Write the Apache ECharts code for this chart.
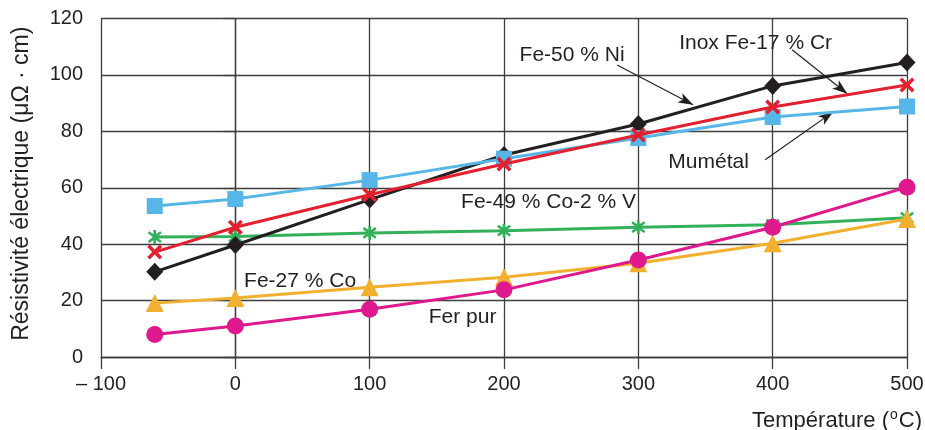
<!DOCTYPE html>
<html>
<head>
<meta charset="utf-8">
<script src="https://cdn.jsdelivr.net/npm/echarts@6/dist/echarts.min.js"></script>
<style>
html,body{margin:0;padding:0;background:#fff;}
#c{width:925px;height:430px;}
</style>
</head>
<body>
<div id="c"></div>
<script>
// ---- data ----
const temps = [-60, 0, 100, 200, 300, 400, 500];
const feNi    = [30.2, 39.7, 55.8, 71.6, 82.6, 96.1, 104.4];
const mumetal = [53.5, 56.0, 62.7, 70.3, 77.6, 85.1, 88.8];
const inox    = [37.2, 46.0, 57.5, 68.4, 78.7, 88.6, 96.4];
const feCoV   = [42.5, 42.7, 44.0, 44.8, 46.0, 46.9, 49.4];
const feCo    = [19.1, 20.9, 24.7, 28.3, 33.2, 40.3, 48.9];
const ferPur  = [8.0, 11.0, 16.9, 23.8, 34.4, 46.0, 60.2];
const xTickValues = [-100, 0, 100, 200, 300, 400, 500];
const xTickLabels = ['\u2013 100', '0', '100', '200', '300', '400', '500'];
const yTickLabels = ['0', '20', '40', '60', '80', '100', '120'];
const seriesNames = ['Fe-50 % Ni', 'Mumétal', 'Inox Fe-17 % Cr', 'Fe-49 % Co-2 % V', 'Fe-27 % Co', 'Fer pur'];
// annotation labels (data coordinates)
const labelNames  = ['Fe-50 % Ni', 'Inox Fe-17 % Cr', 'Mumétal', 'Fe-49 % Co-2 % V', 'Fe-27 % Co', 'Fer pur'];
const labelX      = [250.7, 387.3, 352.3, 233.2, 48.2, 169.2];
const labelY      = [107.1, 111.3, 69.1, 55.0, 27.0, 14.2];
// annotation arrows (data coordinates: start -> tip)
const arrowFrom = [[284.2, 103.5], [414.5, 108.9], [394.4, 69.9]];
const arrowTo   = [[340.8, 89.4], [455.5, 93.3], [445.1, 86.9]];

const pair = arr => temps.map((t, i) => [t, arr[i]]);
const FONT = '"Liberation Sans", Arial, Helvetica, sans-serif';
const TXT = '#231f20';
const GRID = '#3c3c3c';

const crossPath = 'path://M0,1.7L1.7,0L5,3.3L8.3,0L10,1.7L6.7,5L10,8.3L8.3,10L5,6.7L1.7,10L0,8.3L3.3,5Z';
const starPath = 'path://M4.1,0L5.9,0L5.9,10L4.1,10ZM0.3,2.2L1.3,0.8L5,3.5L8.7,0.8L9.7,2.2L6.2,5L9.7,7.8L8.7,9.2L5,6.5L1.3,9.2L0.3,7.8L3.8,5Z';

function mk(name, data, color, symbol, size, z) {
  return {
    name: name, type: 'line', data: pair(data), z: z,
    symbol: symbol, symbolSize: size, showSymbol: true,
    lineStyle: { color: color, width: 3 },
    itemStyle: { color: color, borderWidth: 0 },
    emphasis: { disabled: true }, animation: false
  };
}

const chart = echarts.init(document.getElementById('c'), null, { renderer: 'canvas' });

const series = [
  mk(seriesNames[3], feCoV, '#33b05a', starPath, 14, 2),
  mk(seriesNames[4], feCo, '#f2b030', 'triangle', 18, 3),
  mk(seriesNames[5], ferPur, '#e0188e', 'circle', 17, 4),
  mk(seriesNames[0], feNi, '#231f20', 'diamond', [17, 18], 5),
  mk(seriesNames[1], mumetal, '#56b6e6', 'rect', 16, 6),
  mk(seriesNames[2], inox, '#e3202f', crossPath, 15, 7)
];
series[5].markLine = {
  silent: true, animation: false,
  symbol: ['none', 'arrow'], symbolSize: [8, 15],
  label: { show: false },
  lineStyle: { color: '#231f20', width: 1.2, type: 'solid' },
  data: arrowFrom.map((p, i) => [{ coord: p }, { coord: arrowTo[i] }])
};
series[5].markPoint = {
  silent: true, animation: false,
  symbol: 'rect', symbolSize: 1,
  itemStyle: { color: 'rgba(0,0,0,0)' },
  label: { show: true, position: 'inside', color: TXT, fontSize: 21, fontFamily: FONT,
           formatter: p => p.name },
  data: labelNames.map((n, i) => ({ name: n, coord: [labelX[i], labelY[i]] }))
};

chart.setOption({
  backgroundColor: '#ffffff',
  animation: false,
  grid: { left: 101, right: 18, top: 18.5, bottom: 73, containLabel: false, outerBoundsMode: 'none' },
  xAxis: {
    type: 'value', min: -100, max: 500, interval: 100,
    axisLine: { show: true, onZero: false, lineStyle: { color: GRID, width: 1.3 } },
    axisTick: { show: true, length: 12, inside: false, lineStyle: { color: GRID, width: 1.3 } },
    splitLine: { show: true, lineStyle: { color: GRID, width: 1.3 } },
    axisLabel: { margin: 17, color: TXT, fontSize: 20, fontFamily: FONT,
      formatter: v => xTickLabels[xTickValues.indexOf(v)] }
  },
  yAxis: {
    type: 'value', min: 0, max: 120, interval: 20,
    name: 'Résistivité électrique (μΩ · cm)', nameLocation: 'middle', nameGap: 68, nameRotate: 90,
    nameTextStyle: { color: TXT, fontSize: 23, fontFamily: FONT, padding: [0, 0, 0, 8] },
    axisLine: { show: true, lineStyle: { color: GRID, width: 1.3 } },
    axisTick: { show: true, length: 12, inside: false, lineStyle: { color: GRID, width: 1.3 } },
    splitLine: { show: true, lineStyle: { color: GRID, width: 1.3 } },
    axisLabel: { margin: 18, color: TXT, fontSize: 20, fontFamily: FONT,
      formatter: v => yTickLabels[v / 20] }
  },
  graphic: [{
    type: 'text', right: 3, top: 408, silent: true,
    style: {
      rich: {
        a: { fontSize: 22, fontFamily: FONT, fill: TXT },
        s: { fontSize: 14, fontFamily: FONT, fill: TXT, padding: [0, 1, 11, 1] }
      },
      text: '{a|Température (}{s|o}{a|C)}'
    }
  }],
  series: series
});
</script>
</body>
</html>
